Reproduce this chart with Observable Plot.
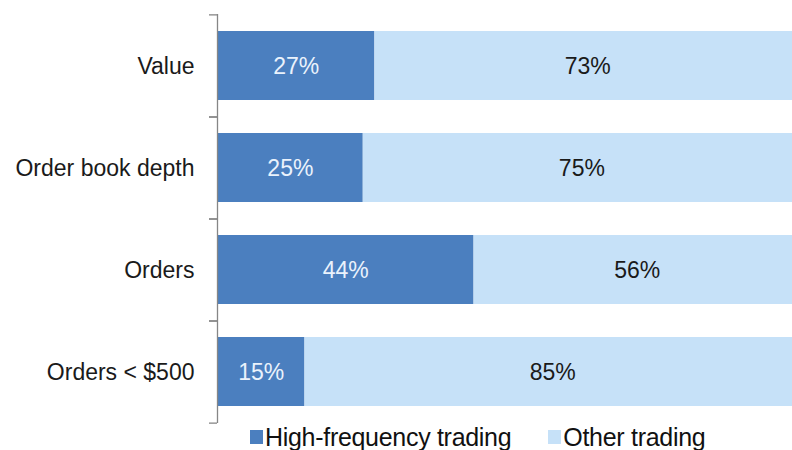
<!DOCTYPE html>
<html>
<head>
<meta charset="utf-8">
<script src="https://cdn.jsdelivr.net/npm/d3@7"></script>
<script src="https://cdn.jsdelivr.net/npm/@observablehq/plot@0.6"></script>
<style>
  html, body { margin: 0; padding: 0; background: #fff; overflow: hidden; width: 792px; height: 450px; }
  #chart svg { display: block; max-width: none !important; }
  #legend { display: flex; align-items: center; margin-left: 250px; margin-top: -1px; height: 24px; line-height: 24px;
            font-family: "Liberation Sans", Arial, sans-serif; font-size: 25px; color: #111; letter-spacing: -0.3px; white-space: nowrap; }
  #legend .sw { display: inline-block; width: 13px; height: 14px; margin-right: 2px; }
  #legend .item { display: flex; align-items: center; margin-right: 37px; }
</style>
</head>
<body>
<div id="chart"></div>
<div id="legend"></div>
<script>
const categories = ["Value", "Order book depth", "Orders", "Orders < $500"];
const series = ["High-frequency trading", "Other trading"];
const hftValues = [27, 25, 44, 15];
const otherValues = [73, 75, 56, 85];
const colors = ["#4b7fbf", "#c6e1f8"];

const data = [];
categories.forEach((c, i) => {
  data.push({category: c, series: series[0], value: hftValues[i]});
  data.push({category: c, series: series[1], value: otherValues[i]});
});

const stackOpts = {x: "value", y: "category", z: "series", order: series};
const half = 409 / 4 / 2;
const label = k => d => d.series === series[k] ? d.value + "%" : "";

const chart = Plot.plot({
  width: 800,
  height: 426,
  marginLeft: 217,
  marginRight: 0,
  marginTop: 14,
  marginBottom: 3,
  style: {fontFamily: "'Liberation Sans', Arial, sans-serif", background: "#fff", maxWidth: "none"},
  x: {domain: [0, 100], axis: null},
  y: {domain: categories, paddingInner: 0.325, paddingOuter: 0.1625, label: null},
  color: {domain: series, range: colors},
  marks: [
    Plot.barX(data, Plot.stackX({...stackOpts, fill: "series"})),
    Plot.text(data, Plot.stackX({...stackOpts, text: label(0), fill: "#eaf2fc", fontSize: 23, dy: 1, letterSpacing: -0.3})),
    Plot.text(data, Plot.stackX({...stackOpts, text: label(1), fill: "#1a1a1a", fontSize: 23, dy: 1, letterSpacing: -0.3})),
    Plot.ruleX([0], {stroke: "#868686", strokeWidth: 1.3}),
    Plot.axisY({tickSize: 8, text: null, dy: -half, stroke: "#868686", strokeWidth: 1.3}),
    Plot.axisY({tickSize: 8, text: null, dy: half, stroke: "#868686", strokeWidth: 1.3}),
    Plot.axisY({tickSize: 0, tickPadding: 23, fontSize: 23, fill: "#1a1a1a", label: null, letterSpacing: -0.1, dy: 1})
  ]
});
document.getElementById("chart").appendChild(chart);

const legend = document.getElementById("legend");
series.forEach((s, i) => {
  const item = document.createElement("span");
  item.className = "item";
  const sw = document.createElement("span");
  sw.className = "sw";
  sw.style.background = colors[i];
  item.appendChild(sw);
  item.appendChild(document.createTextNode(s));
  legend.appendChild(item);
});
</script>
</body>
</html>
